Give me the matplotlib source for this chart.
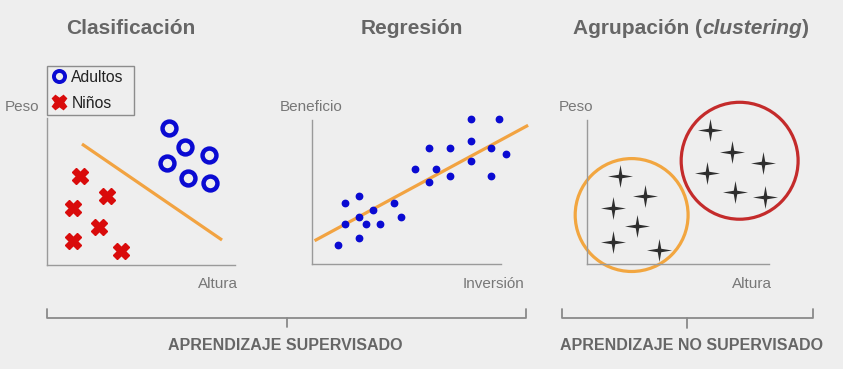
import matplotlib
matplotlib.use("Agg")
import matplotlib.pyplot as plt
from matplotlib.path import Path
from matplotlib.patches import Circle
from matplotlib.lines import Line2D

W, H = 843, 369
BG = "#eeeeee"
AXIS_GRAY = "#9a9a9a"
plt.rcParams["font.family"] = ["Liberation Sans", "DejaVu Sans"]

# --- Clasificación (Altura vs Peso) ---
ninos_x = [1.76, 3.19, 1.38, 2.77, 1.38, 3.94]
ninos_y = [6.05, 4.69, 3.88, 2.59, 1.63, 0.95]
adultos_x = [6.49, 7.34, 8.62, 6.38, 7.50, 8.67]
adultos_y = [9.32, 8.03, 7.48, 6.94, 5.92, 5.58]
frontera_x = [1.86, 9.31]
frontera_y = [8.23, 1.70]

# --- Regresión (Inversión vs Beneficio) ---
inversion = [8.40, 9.88, 8.40, 6.19, 7.29, 9.49, 10.25, 8.40, 5.45, 6.54, 7.29, 9.49,
             6.19, 2.49, 1.75, 4.34, 3.24, 2.49, 4.71, 1.75, 2.86, 3.58, 2.49, 1.38]
beneficio = [10.05, 10.05, 8.56, 8.08, 8.08, 8.08, 7.62, 7.13, 6.62, 6.62, 6.13, 6.13,
             5.67, 4.70, 4.22, 4.22, 3.73, 3.24, 3.24, 2.76, 2.76, 2.76, 1.78, 1.30]
ajuste_x = [0.21, 11.36]
ajuste_y = [1.67, 9.58]

# --- Agrupación (Altura vs Peso, sin etiquetas) ---
altura = [8.54, 10.05, 12.20, 8.31, 10.28, 12.36, 2.29, 4.03, 1.78, 3.49, 1.78, 5.02]
peso = [9.31, 7.80, 7.03, 6.34, 5.02, 4.67, 6.11, 4.72, 3.87, 2.64, 1.55, 0.97]
grupo_a = (3.10, 3.40, 3.92)   # centro x, centro y, radio
grupo_b = (10.60, 7.17, 4.06)


def px_axes(fig, left, top, right, bottom):
    # ejes ubicados en pixeles de la figura
    return fig.add_axes([left / W, 1 - bottom / H, (right - left) / W, (bottom - top) / H])


def estilo_ejes(ax):
    ax.set_facecolor("none")
    for s in ("top", "right"):
        ax.spines[s].set_visible(False)
    for s in ("left", "bottom"):
        ax.spines[s].set_color(AXIS_GRAY)
        ax.spines[s].set_linewidth(1.0)
    ax.set_xticks([])
    ax.set_yticks([])


def llave(ax, x0, x1, xm, ytop, ybar, ytip):
    kw = dict(color="#8a8a8a", lw=1.3, solid_joinstyle="round", solid_capstyle="round")
    ax.plot([x0, x0, x1, x1], [ytop, ybar, ybar, ytop], **kw)
    ax.plot([xm, xm], [ybar, ytip], **kw)


# estrella de 4 puntas
r = 0.14
estrella = Path([(0, 0.92), (r, r), (1, 0), (r, -r), (0, -0.92), (-r, -r), (-1, 0), (-r, r), (0, 0.92)],
                [Path.MOVETO] + [Path.LINETO] * 7 + [Path.CLOSEPOLY])

fig = plt.figure(figsize=(W / 100, H / 100), dpi=100, facecolor=BG)

base = fig.add_axes([0, 0, 1, 1])
base.set_xlim(0, W)
base.set_ylim(H, 0)
base.axis("off")

# titulos
tit = dict(fontsize=15, fontweight="bold", color="#666666", va="center")
base.text(131, 28, "Clasificación", ha="center", **tit)
base.text(412, 28, "Regresión", ha="center", **tit)
fig.canvas.draw()
rend = fig.canvas.get_renderer()
x = 573
for txt, st in (("Agrupación (", "normal"), ("clustering", "italic"), (")", "normal")):
    t = base.text(x, 28, txt, ha="left", fontstyle=st, **tit)
    bb = t.get_window_extent(renderer=rend)
    x += bb.width

# etiquetas de ejes
lab = dict(fontsize=11, color="#777777", va="center")
base.text(5, 107, "Peso", ha="left", **lab)
base.text(238, 284, "Altura", ha="right", **lab)
base.text(311, 107, "Beneficio", ha="center", **lab)
base.text(524, 284, "Inversión", ha="right", **lab)
base.text(576, 107, "Peso", ha="center", **lab)
base.text(772, 284, "Altura", ha="right", **lab)

# llaves y textos inferiores
llave(base, 47, 526, 287, 309, 318, 327)
llave(base, 562, 813, 687, 309, 318, 328)
inf = dict(fontsize=11.5, fontweight="bold", color="#666666", va="center", ha="center")
base.text(285, 346, "APRENDIZAJE SUPERVISADO", **inf)
base.text(692, 346, "APRENDIZAJE NO SUPERVISADO", **inf)

# ---------- Clasificación ----------
ax1 = px_axes(fig, 47, 118, 235, 265)
estilo_ejes(ax1)
ax1.set_xlim(0, 10)
ax1.set_ylim(0, 10)
ax1.plot(frontera_x, frontera_y, color="#f2a341", lw=2.3, solid_capstyle="butt")
ax1.plot(adultos_x, adultos_y, "o", ms=10, mfc="none", mec="#0a0ad2", mew=3.2,
         clip_on=False)
ax1.plot(ninos_x, ninos_y, "X", ms=11.5, color="#d90b0b", mec="#d90b0b", clip_on=False)
h_ad_leg = Line2D([], [], marker="o", ls="none", ms=8, mfc="none", mec="#0a0ad2", mew=2.8)
h_ni_leg = Line2D([], [], marker="X", ls="none", ms=10.5, color="#d90b0b")
leg = ax1.legend([h_ad_leg, h_ni_leg], ["Adultos", "Niños"], loc="upper left",
                 bbox_to_anchor=(47 / W, 1 - 113 / H, 87 / W, 47 / H),
                 bbox_transform=fig.transFigure, mode="expand",
                 borderaxespad=0, borderpad=0.25, handlelength=1.0, handletextpad=0.3,
                 labelspacing=0.7, fontsize=11.3, fancybox=False, framealpha=1,
                 facecolor=BG, edgecolor="#8c8c8c")
leg.get_frame().set_linewidth(1.0)
for t in leg.get_texts():
    t.set_color("#222222")

# ---------- Regresión ----------
ax2 = px_axes(fig, 312, 120, 501, 264)
estilo_ejes(ax2)
ax2.set_xlim(0, 10)
ax2.set_ylim(0, 10)
ax2.plot(ajuste_x, ajuste_y, color="#f2a341", lw=2.3, clip_on=False, zorder=2)
ax2.plot(inversion, beneficio, "o", ms=4.6, color="#0a0ad2", clip_on=False, zorder=3)

# ---------- Agrupación ----------
ax3 = px_axes(fig, 587, 120, 769, 264)
estilo_ejes(ax3)
ax3.set_xlim(0, 182 / 14.4)
ax3.set_ylim(0, 10)
for (cx, cy, rad), col in ((grupo_a, "#f2a640"), (grupo_b, "#c42b2b")):
    ax3.add_patch(Circle((cx, cy), rad, fill=False, ec=col, lw=2.3, clip_on=False))
ax3.plot(altura, peso, ls="none", marker=estrella, ms=18, color="#2e2e2e", mew=0,
         clip_on=False)

fig.savefig("out.png", dpi=100, facecolor=BG)
